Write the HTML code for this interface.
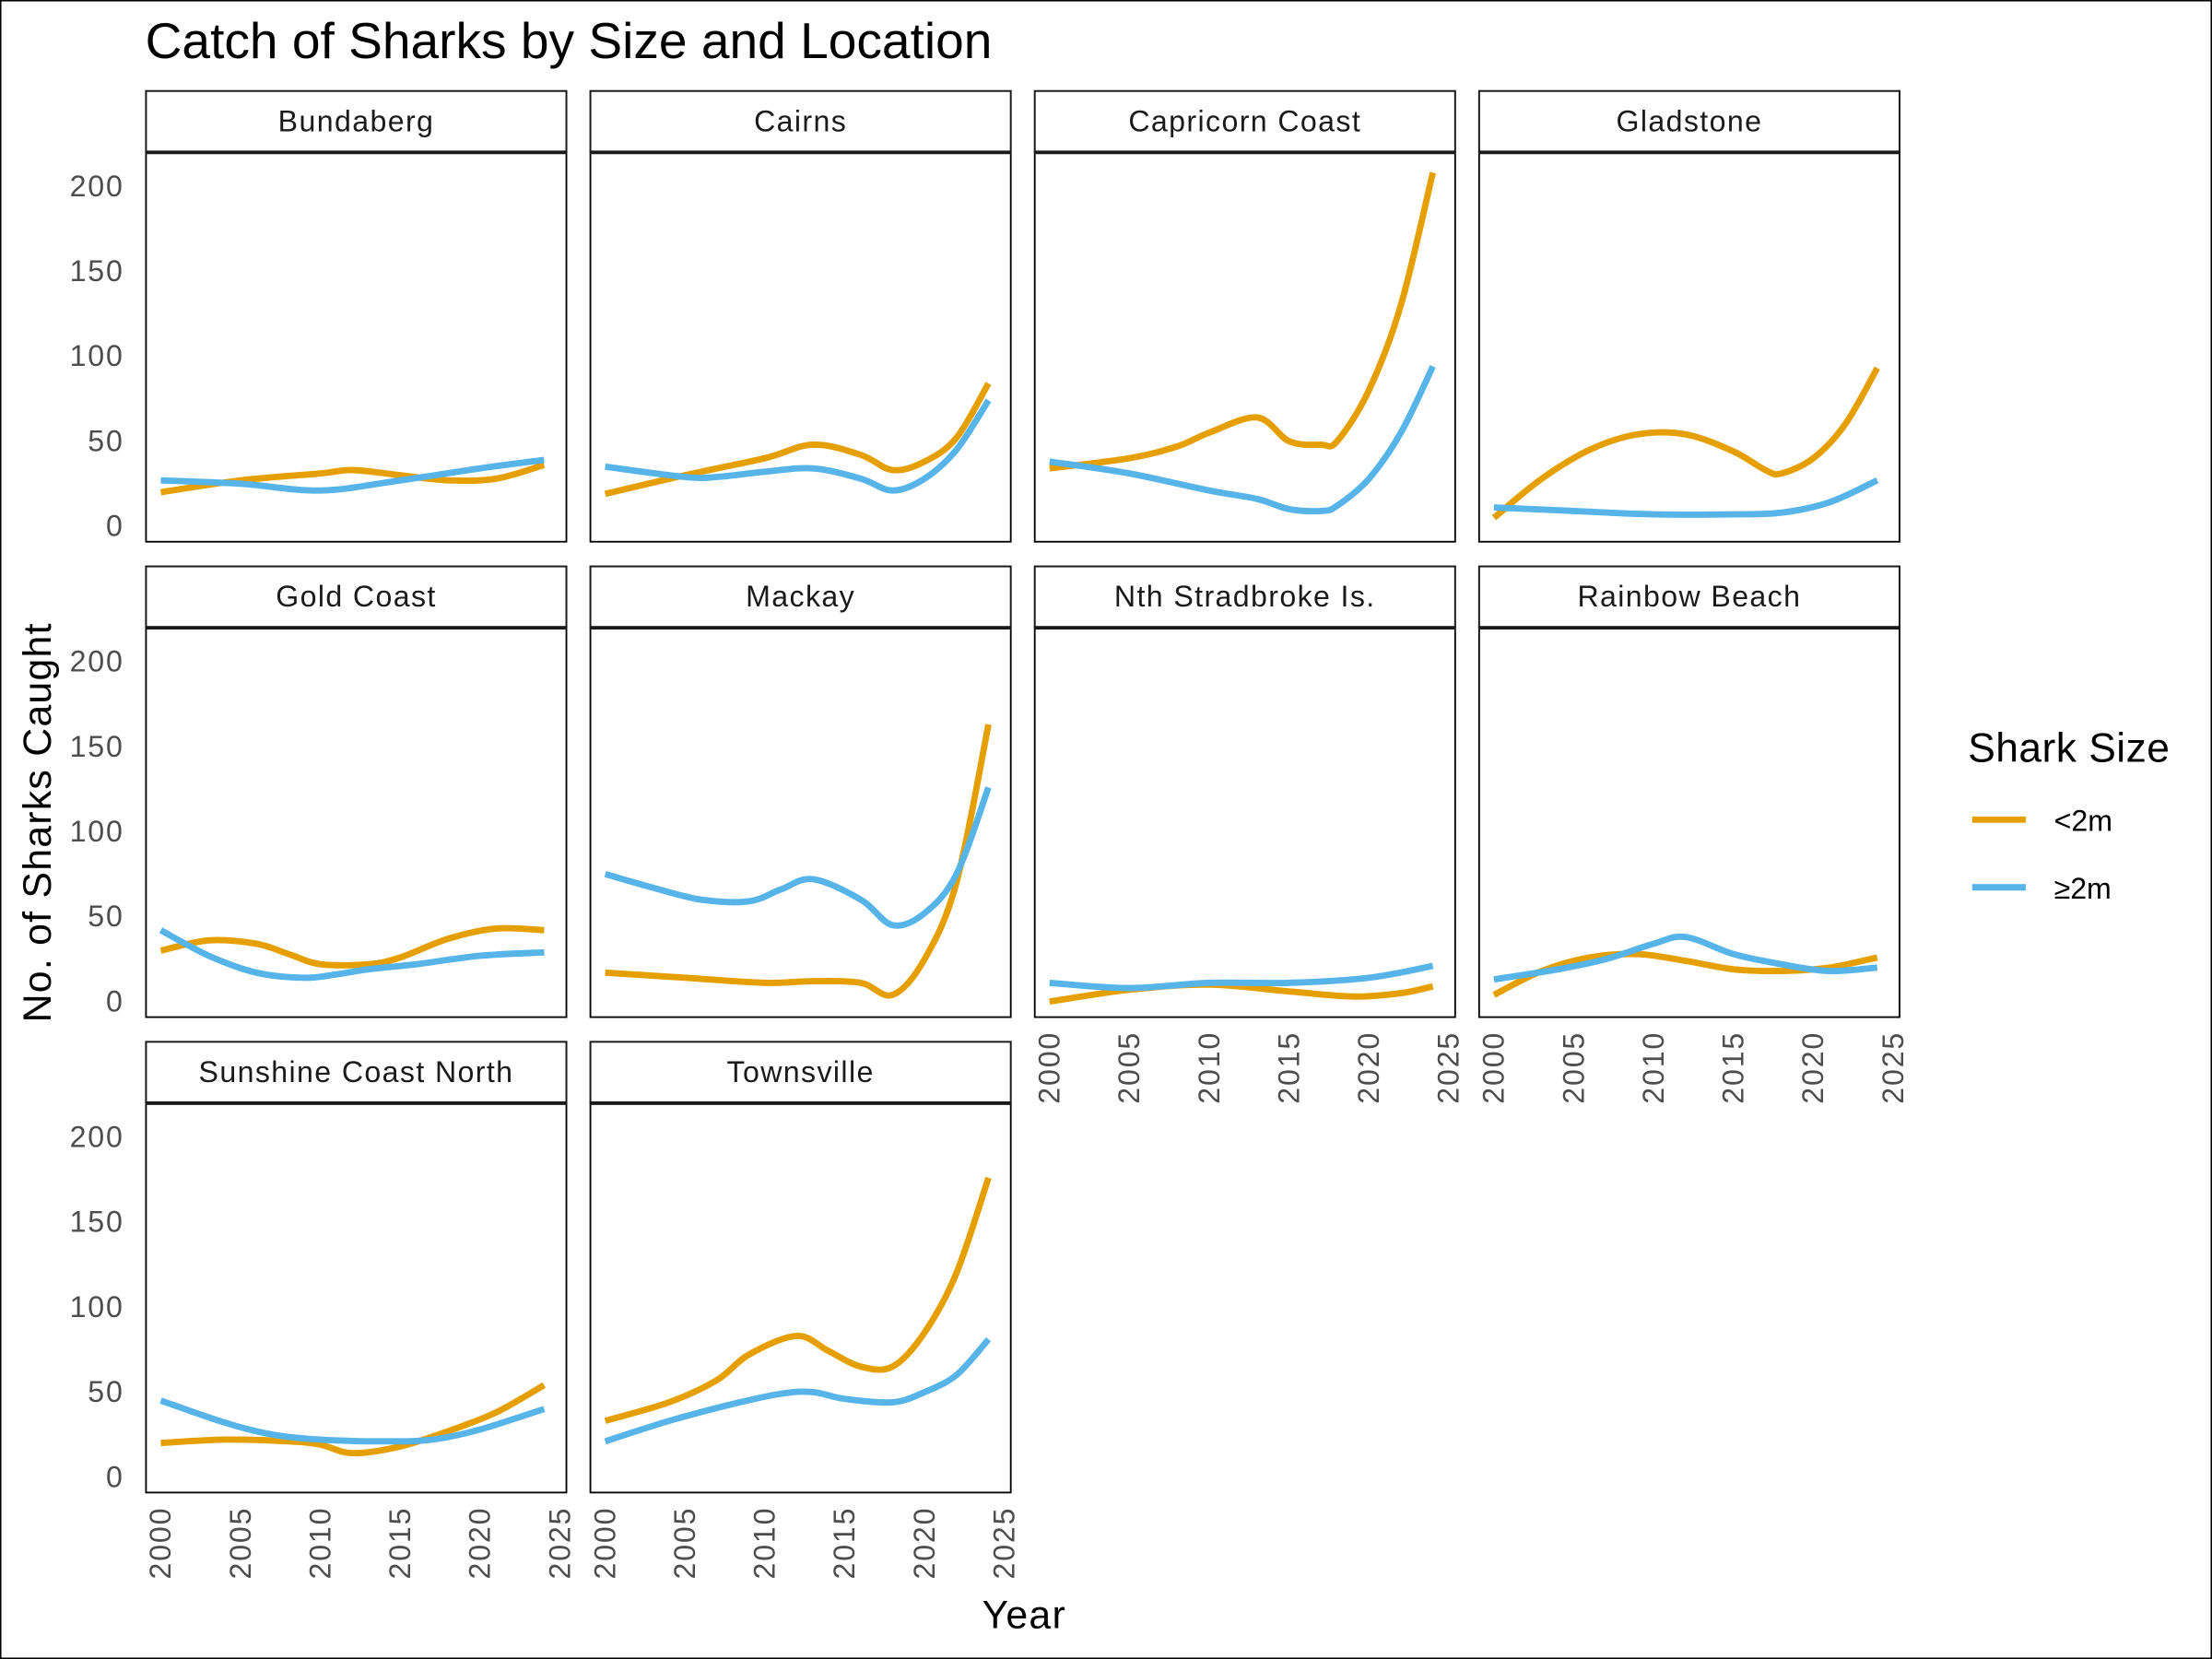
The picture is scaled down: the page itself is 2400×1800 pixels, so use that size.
<!DOCTYPE html>
<html><head><meta charset="utf-8"><style>
html,body{margin:0;padding:0;background:#fff}
svg{display:block;font-family:"Liberation Sans",sans-serif}
</style></head><body>
<svg id="chart" width="2400" height="1800" viewBox="0 0 1568 1176" xmlns="http://www.w3.org/2000/svg">
<rect x="0.5" y="0.5" width="1567" height="1175" fill="#fff" stroke="#000" stroke-width="1"/>
<text x="103" y="41" font-size="36" fill="#000">Catch of Sharks by Size and Location</text>
<text x="726" y="1154" font-size="28" letter-spacing="0.8" text-anchor="middle" fill="#000">Year</text>
<text transform="translate(36,583) rotate(-90)" font-size="28" letter-spacing="0.8" text-anchor="middle" fill="#000">No. of Sharks Caught</text>
<g>
<text x="1395" y="540" font-size="29" letter-spacing="0.3" fill="#000">Shark Size</text>
<line x1="1398" y1="581" x2="1436" y2="581" stroke="#E69F00" stroke-width="4.5"/>
<text x="1456" y="589" font-size="21" fill="#000">&lt;2m</text>
<line x1="1398" y1="629" x2="1436" y2="629" stroke="#56B4E9" stroke-width="4.5"/>
<text x="1456" y="637" font-size="21" fill="#000">≥2m</text>
</g>
<g id="panels"></g>
</svg>
<script>
const locations = ["Bundaberg","Cairns","Capricorn Coast","Gladstone","Gold Coast","Mackay","Nth Stradbroke Is.","Rainbow Beach","Sunshine Coast North","Townsville"];
const smallYears = [
[2000,2005,2010,2012,2015,2018,2021,2024],
[2000,2005,2010,2013,2016,2018,2020,2022,2024],
[2000,2005,2008,2010,2013,2015,2017,2018,2020,2022,2024],
[2000,2003,2006,2009,2012,2015,2017,2018,2020,2022,2024],
[2000,2003,2006,2008,2010,2013,2015,2018,2021,2024],
[2000,2005,2010,2013,2016,2018,2020,2022,2024],
[2000,2005,2010,2015,2019,2022,2024],
[2000,2003,2006,2009,2012,2015,2018,2021,2024],
[2000,2004,2008,2010,2012,2015,2018,2021,2024],
[2000,2004,2007,2009,2012,2014,2016,2018,2020,2022,2024]];
const smallValues = [
[20,27,31,33,30,27,28,36],
[19,30,40,48,42,33,38,52,84],
[34,40,47,55,64,50,48,50,80,130,208],
[5,28,45,54,54,44,33,31,40,60,93],
[30,36,34,28,22,22,26,37,43,42],
[17,14,11,12,11,4,25,70,163],
[0,7,10,6,3,5,9],
[4,18,26,28,24,19,18,20,26],
[20,22,21,19,14,18,27,38,54],
[33,44,57,72,83,74,65,65,85,120,176]];
const largeYears = [
[2000,2005,2010,2015,2020,2024],
[2000,2005,2007,2010,2013,2016,2018,2020,2022,2024],
[2000,2005,2010,2013,2015,2017,2018,2020,2022,2024],
[2000,2005,2010,2015,2018,2021,2024],
[2000,2003,2006,2009,2011,2013,2016,2020,2024],
[2000,2003,2006,2009,2011,2013,2016,2018,2020,2022,2024],
[2000,2005,2010,2015,2020,2024],
[2000,2004,2007,2010,2012,2015,2018,2021,2024],
[2000,2004,2007,2010,2014,2017,2020,2024],
[2000,2004,2008,2011,2013,2015,2018,2020,2022,2024]];
const largeValues = [
[27,25,21,27,34,39],
[35,29,29,32,34,28,21,28,45,74],
[38,31,21,16,10,9,12,28,55,94],
[11,9,7,7,8,14,27],
[42,27,17,14,16,19,22,27,29],
[75,67,60,59,66,72,60,45,52,75,126],
[11,8,11,11,14,21],
[13,19,25,34,38,28,22,18,20],
[45,32,25,22,21,22,28,40],
[21,33,43,49,50,46,44,50,60,81]];
const yTicks = [0,50,100,150,200];
const xTicks = [2000,2005,2010,2015,2020,2025];

const NS="http://www.w3.org/2000/svg";
const root=document.getElementById("panels");
const colX=[103,418,733,1048], rowY=[64,401,738];
const PW=299, SH=44, PH=276;
function mk(tag,attrs,parent){const e=document.createElementNS(NS,tag);for(const k in attrs)e.setAttribute(k,attrs[k]);parent.appendChild(e);return e;}
function xScale(x0,yr){return x0+11+(yr-2000)*11.32;}
function yScale(top,v){return top+SH+265-v*1.205;}
function smoothPath(pts){
  let d="M"+pts[0][0].toFixed(1)+","+pts[0][1].toFixed(1);
  for(let i=0;i<pts.length-1;i++){
    const p0=pts[Math.max(0,i-1)],p1=pts[i],p2=pts[i+1],p3=pts[Math.min(pts.length-1,i+2)];
    const c1=[p1[0]+(p2[0]-p0[0])/6,p1[1]+(p2[1]-p0[1])/6];
    const c2=[p2[0]-(p3[0]-p1[0])/6,p2[1]-(p3[1]-p1[1])/6];
    d+=" C"+c1[0].toFixed(1)+","+c1[1].toFixed(1)+" "+c2[0].toFixed(1)+","+c2[1].toFixed(1)+" "+p2[0].toFixed(1)+","+p2[1].toFixed(1);
  }
  return d;
}
locations.forEach((loc,i)=>{
  const c=i%4,r=Math.floor(i/4),x0=colX[c],top=rowY[r];
  const g=mk("g",{},root);
  
  
  const strip=mk("rect",{x:x0+0.5,y:top+0.5,width:PW-1,height:SH-1,fill:"#fff",stroke:"#1a1a1a","stroke-width":1.3},g);
  
  
  const st=mk("text",{x:x0+PW/2,y:top+29,"font-size":21,"letter-spacing":0.9,"text-anchor":"middle",fill:"#1a1a1a"},g);
  st.textContent=loc;
  
  
  const body=mk("rect",{x:x0+0.5,y:top+SH,width:PW-1,height:PH,fill:"#fff",stroke:"#000","stroke-width":1.2},g);
  
  
  const sl=mk("line",{x1:x0,y1:top+SH,x2:x0+PW,y2:top+SH,stroke:"#1a1a1a","stroke-width":2.5},g);
  
  
  if(c===0){
    yTicks.forEach(t=>{
      const yl=mk("text",{x:88,y:yScale(top,t)+7,"font-size":21,"letter-spacing":1.2,"text-anchor":"end",fill:"#4d4d4d"},g);
      yl.textContent=t;
      
      
    });
  }
  if(r===2||(r===1&&c>=2)){
    xTicks.forEach(t=>{
      const xx=xScale(x0,t);
      const xl=mk("text",{transform:"translate("+(xx+7)+","+(top+SH+PH+10)+") rotate(-90)","font-size":21,"letter-spacing":1.2,"text-anchor":"end",fill:"#4d4d4d"},g);
      xl.textContent=t;
      
      
    });
  }
  const lp=smallYears[i].map((yr,k)=>[xScale(x0,yr),yScale(top,smallValues[i][k])]);
  const p1=mk("path",{d:smoothPath(lp),fill:"none",stroke:"#E69F00","stroke-width":4.5,"stroke-linejoin":"round"},g);
  
  
  const bp=largeYears[i].map((yr,k)=>[xScale(x0,yr),yScale(top,largeValues[i][k])]);
  const p2=mk("path",{d:smoothPath(bp),fill:"none",stroke:"#56B4E9","stroke-width":4.5,"stroke-linejoin":"round"},g);
  
  
});
</script>
</body></html>
